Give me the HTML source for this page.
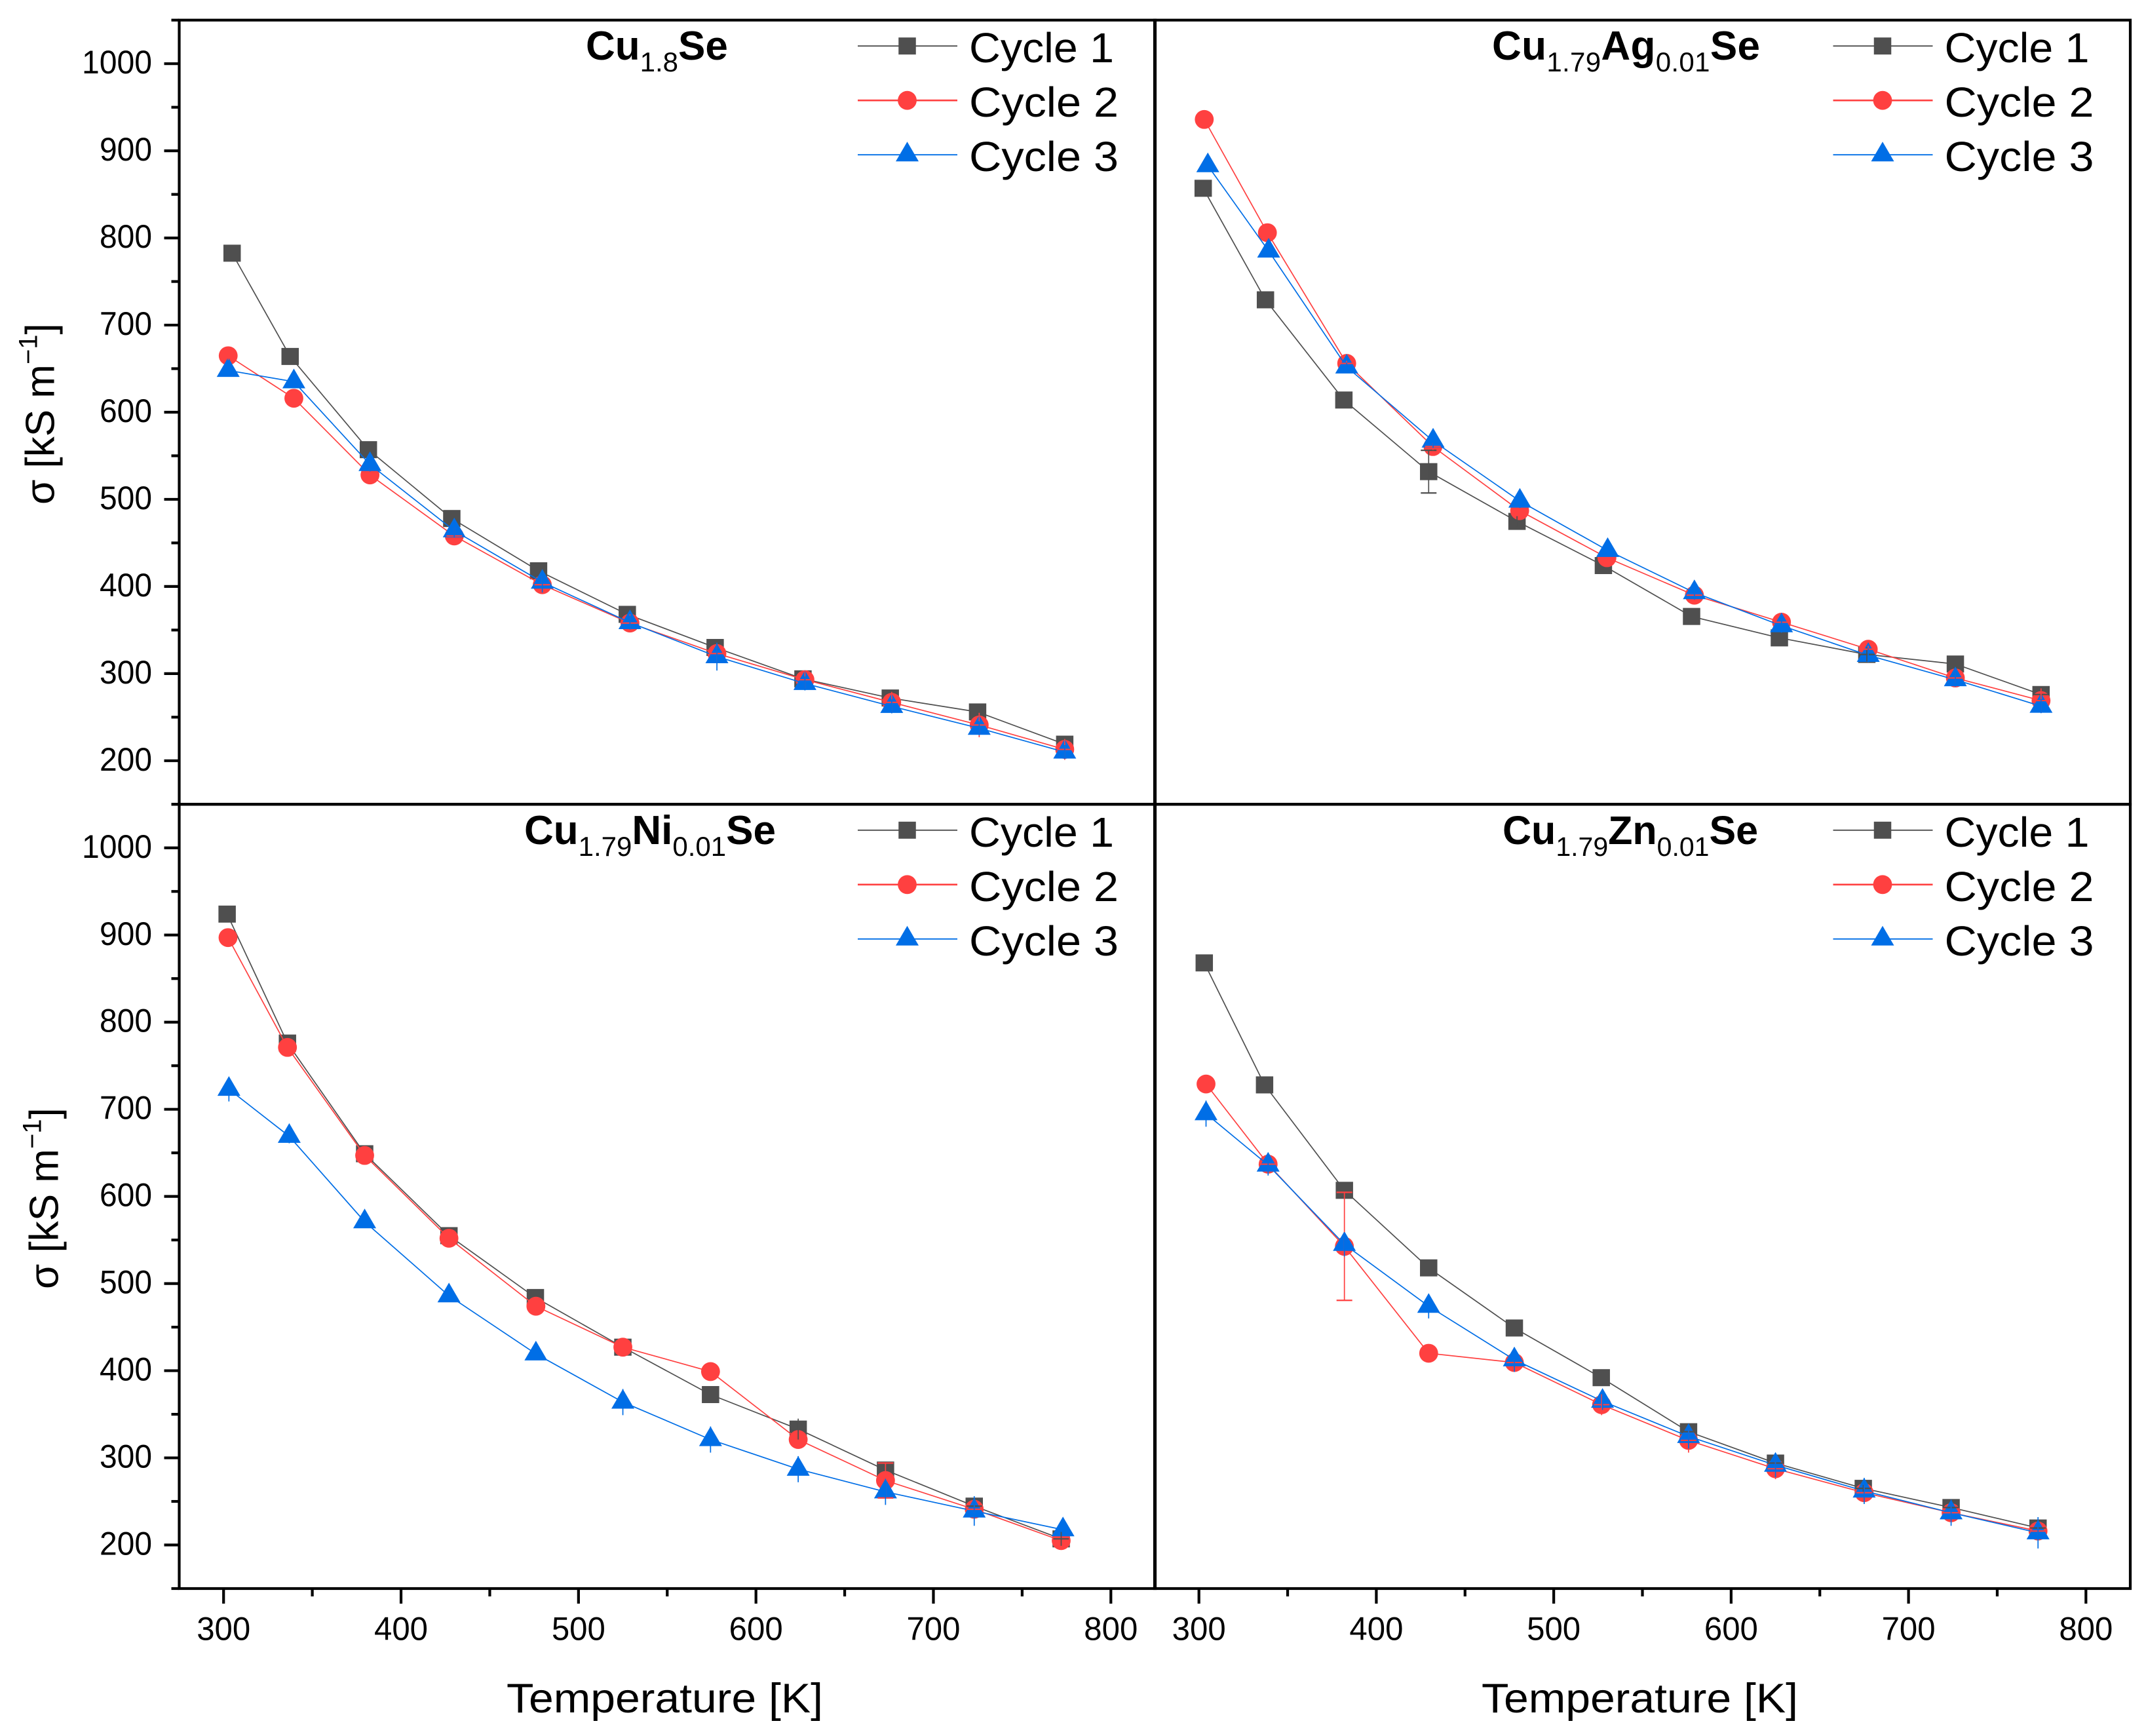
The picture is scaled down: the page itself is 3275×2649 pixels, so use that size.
<!DOCTYPE html>
<html lang="en">
<head>
<meta charset="utf-8">
<title>Electrical conductivity vs temperature</title>
<style>
html,body{margin:0;padding:0;background:#fff;}
svg{display:block;font-family:"Liberation Sans",sans-serif;}
</style>
</head>
<body>
<svg id="figure" xmlns="http://www.w3.org/2000/svg" width="3275" height="2649" viewBox="0 0 3275 2649">
<rect x="0" y="0" width="3275" height="2649" fill="#ffffff"/>

<text x="894" y="91" font-size="62" font-weight="bold" fill="#000">Cu<tspan font-size="42" font-weight="normal" dy="18">1.8</tspan><tspan dy="-18">Se</tspan></text>
<text x="2277" y="91" font-size="62" font-weight="bold" fill="#000" textLength="409" lengthAdjust="spacing">Cu<tspan font-size="42" font-weight="normal" dy="18">1.79</tspan><tspan dy="-18">Ag</tspan><tspan font-size="42" font-weight="normal" dy="18">0.01</tspan><tspan dy="-18">Se</tspan></text>
<text x="800" y="1288" font-size="62" font-weight="bold" fill="#000">Cu<tspan font-size="42" font-weight="normal" dy="18">1.79</tspan><tspan dy="-18">Ni</tspan><tspan font-size="42" font-weight="normal" dy="18">0.01</tspan><tspan dy="-18">Se</tspan></text>
<text x="2293" y="1288" font-size="61" font-weight="bold" fill="#000">Cu<tspan font-size="41" font-weight="normal" dy="18">1.79</tspan><tspan dy="-18">Zn</tspan><tspan font-size="41" font-weight="normal" dy="18">0.01</tspan><tspan dy="-18">Se</tspan></text>

<text transform="translate(82.7,770) rotate(-90)" font-size="62" fill="#000">σ [kS m<tspan font-size="40" dy="-26">−1</tspan><tspan dy="26">]</tspan></text>
<text transform="translate(88.7,1967) rotate(-90)" font-size="62" fill="#000">σ [kS m<tspan font-size="40" dy="-26">−1</tspan><tspan dy="26">]</tspan></text>
<text x="773" y="2613" font-size="63" fill="#000" textLength="483" lengthAdjust="spacingAndGlyphs">Temperature [K]</text>
<text x="2261" y="2613" font-size="63" fill="#000" textLength="483" lengthAdjust="spacingAndGlyphs">Temperature [K]</text>
</svg>

<script>
// Shared axis data
const xMajorTicks = [300, 400, 500, 600, 700, 800];
const xMinorTicks = [350, 450, 550, 650, 750];
const yMajorTicks = [200, 300, 400, 500, 600, 700, 800, 900, 1000];
const yMinorTicks = [150, 250, 350, 450, 550, 650, 750, 850, 950, 1050];
const xDomain = [275, 825];
const yDomain = [150, 1050];
const legendLabels = ['Cycle 1', 'Cycle 2', 'Cycle 3'];

// Cu1.8Se
const aTemp1 = [304.8, 337.5, 381.6, 428.6, 477.5, 527.5, 577, 626.5, 675.7, 724.9, 774];
const aSigma1 = [782.5, 664, 557, 478, 418, 368, 330, 294, 272, 256, 219];
const aError1 = [0, 0, 0, 0, 0, 0, 0, 0, 0, 0, 0];
const aTemp2 = [302.6, 339.6, 382.5, 430, 479.6, 529, 578, 627.6, 676.5, 725.8, 774];
const aSigma2 = [664.8, 616, 528, 458, 402, 358, 323, 293, 267, 241, 213];
const aError2 = [5, 5, 8, 10, 10, 10, 10, 10, 12, 14, 12];
const aTemp3 = [302.6, 339.6, 382.5, 430, 479.6, 529, 578, 627.6, 676.5, 725.8, 774];
const aSigma3 = [648, 635, 540, 464, 405, 358.6, 319.5, 288.7, 262.4, 237.3, 210];
const aError3 = [6, 6, 8, 8, 12, 8, 16, 8, 8, 8, 8];

// Cu1.79Ag0.01Se
const bTemp1 = [302.4, 337.5, 381.7, 429.5, 479.3, 528, 577.7, 627.2, 676.5, 726.4, 774.7];
const bSigma1 = [857, 729, 614, 531.8, 474.7, 424, 365.6, 341, 322, 311, 276];
const bError1 = [0, 0, 0, 24.5, 6, 0, 0, 0, 8, 0, 8];
const bTemp2 = [303, 338.6, 383.3, 431.9, 480.8, 530, 579.3, 628.4, 677.3, 726.4, 774.7];
const bSigma2 = [936, 806, 656, 560.6, 487, 433, 390, 359, 328, 295, 269];
const bError2 = [0, 0, 3, 4, 0, 0, 4, 4, 4, 6, 14];
const bTemp3 = [305, 339.3, 383.3, 432, 480.9, 530.4, 579.3, 628.4, 677.3, 726.4, 774.7];
const bSigma3 = [883, 785, 652, 567, 498, 441.4, 393, 355, 321, 293, 262.6];
const bError3 = [5, 4, 5, 8, 8, 5, 8, 8, 8, 8, 8];

// Cu1.79Ni0.01Se
const cTemp1 = [302, 336, 379.5, 427, 475.7, 525, 574.4, 623.8, 673, 723, 772];
const cSigma1 = [924, 776, 649, 555, 484, 427, 372.6, 333, 286, 244.6, 207];
const cError1 = [0, 0, 0, 0, 0, 0, 0, 12, 0, 6, 8];
const cTemp2 = [302.5, 336, 379.5, 427, 476, 525, 574.4, 623.8, 673, 723, 772];
const cSigma2 = [897, 771, 647, 552, 474, 427, 399, 321, 274, 241, 205];
const cError2 = [0, 0, 0, 0, 0, 0, 0, 0, 20, 5, 0];
const cTemp3 = [303, 337, 379.5, 427, 476, 525, 574.4, 623.8, 673, 723, 773];
const cSigma3 = [723, 669, 571, 486, 419.3, 364, 321, 287, 261, 239, 217.5];
const cError3 = [14, 8, 6, 6, 6, 15, 15, 15, 15, 17, 0];

// Cu1.79Zn0.01Se
const dTemp1 = [303, 337, 382, 429.5, 477.8, 526.8, 576, 625, 674.5, 724, 773];
const dSigma1 = [868, 728, 607, 518, 449, 392, 330, 294, 265, 243, 219.5];
const dError1 = [0, 0, 0, 0, 0, 0, 4, 4, 4, 4, 4];
const dTemp2 = [304, 339, 382, 429.5, 477.8, 527, 576, 625, 675, 724, 773];
const dSigma2 = [729, 637, 542.7, 420, 409.4, 361, 320, 287.5, 260, 237, 216];
const dError2 = [0, 8, 62, 0, 4, 12, 14, 12, 8, 10, 5];
const dTemp3 = [304, 339, 382, 429.5, 477.8, 527.5, 576, 625, 675, 724, 773];
const dSigma3 = [695, 636, 545, 474, 412.6, 365, 324.6, 291.6, 262, 237, 214];
const dError3 = [15, 12, 14, 14, 14, 10, 14, 14, 15, 15, 18];

const NS = 'http://www.w3.org/2000/svg';
const figure = document.getElementById('figure');

const cycleColors = ['#4f4f4f', '#ff4040', '#006ee6'];
const cycleNames = ['cycle-1', 'cycle-2', 'cycle-3'];

const panels = [
  { id: 'cu18se', left: 273.5, right: 1763, top: 30.7, bottom: 1227.3, showY: true,
    temps: [aTemp1, aTemp2, aTemp3], sigmas: [aSigma1, aSigma2, aSigma3], errors: [aError1, aError2, aError3], showX: false },
  { id: 'cu179ag001se', left: 1762, right: 3251, top: 30.7, bottom: 1227.3, showY: false,
    temps: [bTemp1, bTemp2, bTemp3], sigmas: [bSigma1, bSigma2, bSigma3], errors: [bError1, bError2, bError3], showX: false },
  { id: 'cu179ni001se', left: 273.5, right: 1763, top: 1227.3, bottom: 2424, showY: true,
    temps: [cTemp1, cTemp2, cTemp3], sigmas: [cSigma1, cSigma2, cSigma3], errors: [cError1, cError2, cError3], showX: true },
  { id: 'cu179zn001se', left: 1762, right: 3251, top: 1227.3, bottom: 2424, showY: false,
    temps: [dTemp1, dTemp2, dTemp3], sigmas: [dSigma1, dSigma2, dSigma3], errors: [dError1, dError2, dError3], showX: true }
];

function make(tag, props, parent) {
  const el = document.createElementNS(NS, tag);
  Object.keys(props).forEach(function (k) { el.setAttribute(k, props[k]); });
  parent.appendChild(el);
  return el;
}

function drawMarker(kind, cx, cy, color, parent, scale) {
  let el;
  if (kind === 0) {
    el = make('rect', { x: cx - 13.25 * scale, y: cy - 13 * scale, width: 26.5 * scale, height: 26 * scale, fill: color }, parent);
  } else if (kind === 1) {
    el = make('circle', { cx: cx, cy: cy, r: 14.4 * scale, fill: color }, parent);
  } else {
    const p = (cx - 17.5 * scale) + ',' + (cy + 10 * scale) + ' ' + (cx + 17.5 * scale) + ',' + (cy + 10 * scale) + ' ' + cx + ',' + (cy - 20 * scale);
    el = make('polygon', { points: p, fill: color }, parent);
  }
  return el;
}

panels.forEach(function (panel) {
  const sx = function (t) {
    return panel.left + (t - xDomain[0]) / (xDomain[1] - xDomain[0]) * (panel.right - panel.left);
  };
  const sy = function (v) {
    return panel.bottom - (v - yDomain[0]) / (yDomain[1] - yDomain[0]) * (panel.bottom - panel.top);
  };

  const group = make('g', {}, figure);
  
  

  const seriesOrder = [0, 1, 2];
  seriesOrder.forEach(function (s) {
    const seriesGroup = make('g', {}, group);
    
    

    const pts = panel.temps[s].map(function (t, i) {
      return sx(t) + ',' + sy(panel.sigmas[s][i]);
    }).join(' ');
    const line = make('polyline', { points: pts, fill: 'none', stroke: cycleColors[s], 'stroke-width': 1.7 }, seriesGroup);
    
    

    panel.temps[s].forEach(function (t, i) {
      const marker = drawMarker(s, sx(t), sy(panel.sigmas[s][i]), cycleColors[s], seriesGroup, 1);
      
      
    });
  });

  seriesOrder.forEach(function (s) {
    panel.temps[s].forEach(function (t, i) {
      const e = panel.errors[s][i];
      if (!e) return;
      const x = sx(t);
      const v = panel.sigmas[s][i];
      const stem = make('line', { x1: x, x2: x, y1: sy(v + e), y2: sy(v - e), stroke: cycleColors[s], 'stroke-width': 1.7 }, group);
      
      
      if (s === 2) return;
      const capLevels = e < 20 ? [v] : [v + e, v - e];
      capLevels.forEach(function (lv) {
        const cap = make('line', { x1: x - 12, x2: x + 12, y1: sy(lv), y2: sy(lv), stroke: cycleColors[s], 'stroke-width': 2.2 }, group);
        
        
      });
    });
  });

  const frame = make('rect', { x: panel.left, y: panel.top, width: panel.right - panel.left, height: panel.bottom - panel.top, fill: 'none', stroke: '#000', 'stroke-width': 4.2 }, group);
  
  

  if (panel.showY) {
    yMajorTicks.forEach(function (v) {
      const tick = make('line', { x1: panel.left - 23, x2: panel.left, y1: sy(v), y2: sy(v), stroke: '#000', 'stroke-width': 4.2 }, group);
      
      
      const label = String(v);
      const txt = make('text', { x: 232, y: sy(v) + 15, 'font-size': 50, 'text-anchor': 'end', fill: '#000', textLength: label.length === 4 ? 107 : 80, lengthAdjust: 'spacingAndGlyphs' }, group);
      txt.textContent = label;
      
      
    });
    yMinorTicks.forEach(function (v) {
      const tick = make('line', { x1: panel.left - 12, x2: panel.left, y1: sy(v), y2: sy(v), stroke: '#000', 'stroke-width': 4.2 }, group);
      
      
    });
  }

  if (panel.showX) {
    xMajorTicks.forEach(function (t) {
      const tick = make('line', { x1: sx(t), x2: sx(t), y1: panel.bottom, y2: panel.bottom + 23, stroke: '#000', 'stroke-width': 4.2 }, group);
      
      
      const txt = make('text', { x: sx(t), y: 2502.7, 'font-size': 50, 'text-anchor': 'middle', fill: '#000', textLength: 82, lengthAdjust: 'spacingAndGlyphs' }, group);
      txt.textContent = String(t);
      
      
    });
    xMinorTicks.forEach(function (t) {
      const tick = make('line', { x1: sx(t), x2: sx(t), y1: panel.bottom, y2: panel.bottom + 12, stroke: '#000', 'stroke-width': 4.2 }, group);
      
      
    });
  }

  const legend = make('g', {}, group);
  
  
  const legendLeft = panel.left + 1035.5;
  legendLabels.forEach(function (label, s) {
    const rowY = panel.top + 39.5 + 83 * s;
    const entry = make('g', {}, legend);
    
    
    make('line', { x1: legendLeft, x2: legendLeft + 152, y1: rowY, y2: rowY, stroke: cycleColors[s], 'stroke-width': s === 1 ? 2.6 : 1.8 }, entry);
    drawMarker(s, legendLeft + 75.5, rowY, cycleColors[s], entry, 1);
    const txt = make('text', { x: legendLeft + 170, y: rowY + 25, 'font-size': 64, fill: '#000', textLength: s === 0 ? 221 : 228, lengthAdjust: 'spacingAndGlyphs' }, entry);
    txt.textContent = label;
  });
});

const figureTexts = Array.from(figure.querySelectorAll(':scope > text'));
figureTexts.forEach(function (t) { figure.appendChild(t); });
</script>
</body>
</html>
